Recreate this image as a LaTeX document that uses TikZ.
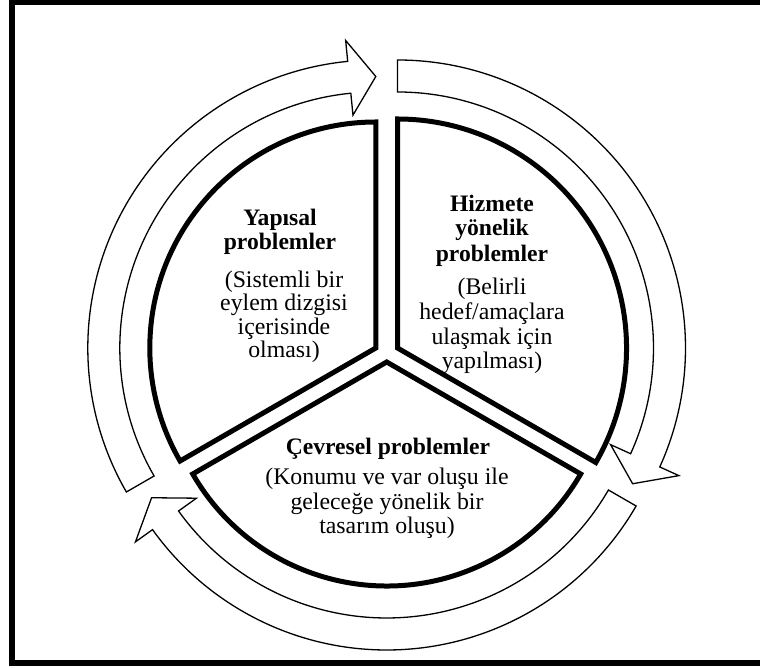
\documentclass[tikz,border=0pt]{standalone}
\usepackage{fontspec}
\setmainfont{Liberation Serif}
\usetikzlibrary{calc}
\newcommand{\segarrow}[3]{%
  \draw[arrowshape] ($(#1)+(#2:288pt)$) arc[start angle=#2, end angle=#3+5.6, radius=288pt]
    -- ($(#1)+(#3+5.6:309pt)$) -- ($(#1)+(#3:271.5pt)$) -- ($(#1)+(#3+5.6:234pt)$)
    -- ($(#1)+(#3+5.6:256pt)$) arc[start angle=#3+5.6, end angle=#2, radius=256pt] -- cycle;}
\begin{document}
\begin{tikzpicture}[x=1pt,y=1pt,
  sector/.style={draw=black,fill=white,line width=5pt,line join=miter},
  arrowshape/.style={draw=black,fill=white,line width=1.3pt,line join=miter},
  frame/.style={draw=black,line width=6pt},
  ttl/.style={anchor=base,inner sep=0pt,font=\fontsize{23.6}{24}\selectfont\bfseries},
  txt/.style={anchor=base,inner sep=0pt,font=\fontsize{23.8}{24}\selectfont}]
\useasboundingbox (0,0) rectangle (760,668);
\clip (0,0) rectangle (760,668);
\fill[white] (0,0) rectangle (760,668);
\draw[frame] (12,5) rectangle (775,665.5);
\coordinate (cL) at (375.8,320);
\coordinate (cR) at (397.5,320);
\coordinate (cB) at (386.7,306);
% sectors
\draw[sector] (cL) -- ++(90:226pt) arc[start angle=90,end angle=210,radius=226pt] -- cycle;
\draw[sector] (cR) -- ++(-30:229pt) arc[start angle=-30,end angle=90,radius=229pt] -- cycle;
\draw[sector] (cB) -- ++(210:224pt) arc[start angle=210,end angle=330,radius=224pt] -- cycle;
% arrows
\segarrow{cL}{210}{90}
\segarrow{cR}{90}{-30}
\segarrow{cB}{-30}{-150}
% texts left
\node[ttl] (l1) at (280,442) {Yapısal};
\node[ttl] (l2) at (280,418) {problemler};
\node[txt] (l3) at (284,380.5) {(Sistemli bir};
\node[txt] (l4) at (284,357) {eylem dizgisi};
\node[txt] (l5) at (284,333.5) {içerisinde};
\node[txt] (l6) at (284,310) {olması)};
% texts right
\node[ttl] (r1) at (492,456.3) {Hizmete};
\node[ttl] (r2) at (492,432) {yönelik};
\node[ttl] (r3) at (492,406.8) {problemler};
\node[txt] (r4) at (492,373) {(Belirli};
\node[txt] (r5) at (492,348) {hedef/amaçlara};
\node[txt] (r6) at (492,323.3) {ulaşmak için};
\node[txt] (r7) at (492,299.7) {yapılması)};
% texts bottom
\node[ttl] (b1) at (388,213) {Çevresel problemler};
\node[txt] (b2) at (387,183) {(Konumu ve var oluşu ile};
\node[txt] (b3) at (387,158.7) {geleceğe yönelik bir};
\node[txt] (b4) at (387,134.7) {tasarım oluşu)};
\end{tikzpicture}
\end{document}
